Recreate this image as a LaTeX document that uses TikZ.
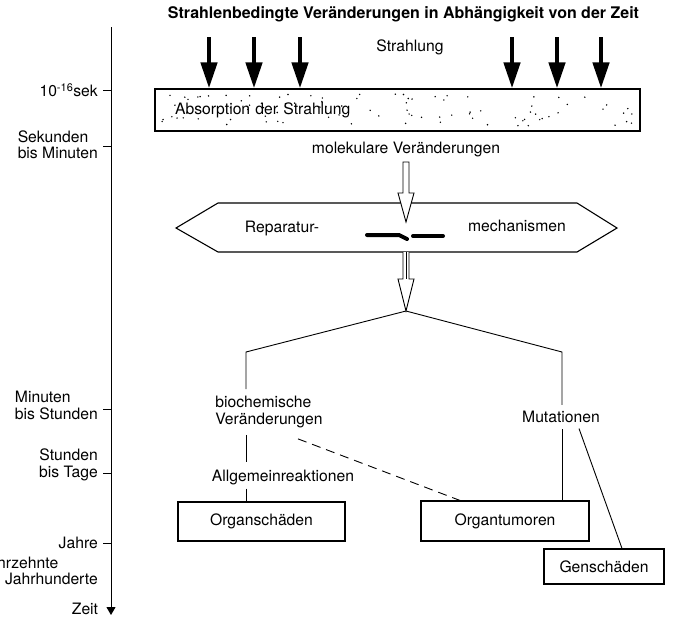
\documentclass[tikz,border=0pt]{standalone}
\usepackage{fontspec}
\setmainfont{TeX Gyre Heros}
\usetikzlibrary{arrows.meta,calc}
\tikzset{
    plain-text/.style = {inner sep=0pt, font=\fontsize{15.7}{16.5}\selectfont},
    time-label/.style = {plain-text, anchor=east},
    result-box/.style = {draw, line width=1.1pt, rectangle, plain-text},
    rad-arrow/.style = {line width=4.5pt, -{Triangle[length=26pt,width=16pt]}},
    hollow-arrow/.style = {draw, fill=white, line width=0.9pt, line join=miter},
    link/.style = {line width=0.9pt},
}

\begin{document}
\begin{tikzpicture}[x=1pt, y=-1pt]
\useasboundingbox (0,0) rectangle (676,621);
\clip (0,0) rectangle (676,621);

\node[plain-text, font=\fontsize{16}{17}\selectfont\bfseries] (title) at (403.5,14) {Strahlenbedingte Veränderungen in Abhängigkeit von der Zeit};

% time scale
\draw[line width=1pt, -{Triangle[length=8pt,width=9pt]}] (111,27) -- (111,615);
\foreach \y in {90,146,409,473,543}
    \draw[line width=1pt] (111,\y) -- (103,\y);
\node[time-label] (t-sek) at (98,90) {10\textsuperscript{-16}sek};
\node[time-label, align=left] (t-min) at (98,145) {Sekunden\\bis Minuten};
\node[time-label, align=left] (t-std) at (98,405.5) {Minuten\\bis Stunden};
\node[time-label, align=right] (t-tag) at (98,465) {Stunden\\bis Tage};
\node[time-label] (t-jahr) at (98,543) {Jahre};
\node[time-label, align=left] (t-jhd) at (98,571) {Jahrzehnte\\bis Jahrhunderte};
\node[plain-text] (zeit) at (85,609) {Zeit};

% radiation and absorption
\node[plain-text] (strahlung) at (410,47) {Strahlung};
\node[draw, line width=1.2pt, plain-text, minimum width=485pt, minimum height=42pt,
      text width=445pt, align=left, inner xsep=20pt] (absorb) at (397.5,110) {Absorption der Strahlung};
\pgfmathsetseed{815}
\foreach \i in {1,...,95}
    \fill ({162+rnd*472},{94+rnd*32}) circle (0.8pt);
\foreach \x in {209,254,300,512,557,601}
    \draw[rad-arrow] (\x,37) -- ({\x},37 |- absorb.north);

\node[plain-text] (molek) at (406,149) {molekulare Veränderungen};

% repair
\draw[line width=1.1pt, line join=miter] (176,228) -- (218,203) -- (577,203) -- (617,228) -- (577,252) -- (218,252) -- cycle;
\draw[hollow-arrow] (403,162) -- (403,193) -- (398,193) -- (406,222) -- (414,193) -- (409,193) -- (409,162) -- cycle;
\node[plain-text] (repair-left) at (282,228) {Reparatur-};
\node[plain-text] (repair-right) at (517,226) {mechanismen};
\draw[line width=4pt, line cap=round, line join=round] (367,235) -- (399,235) -- (407,239);
\draw[line width=4pt, line cap=round] (413,236) -- (443,236);

\draw[hollow-arrow] (403,252) -- (403,279) -- (398,279) -- (406,311) -- (414,279) -- (409,279) -- (409,252);
\draw[line width=0.7pt] (406,252) -- (406,279);

% branches
\coordinate (split) at (406,311);
\coordinate (left-corner) at (246,352);
\coordinate (right-corner) at (562,352);
\node[plain-text, align=left] (biochem) at (269,412) {biochemische\\Veränderungen};
\node[plain-text] (allg) at (283,477) {Allgemeinreaktionen};
\node[plain-text] (mut) at (561,417) {Mutationen};
\node[result-box, minimum width=167pt, minimum height=39pt] (organ) at (261.5,521.5) {Organschäden};
\node[result-box, minimum width=168pt, minimum height=40pt] (tumor) at (505,521) {Organtumoren};
\node[result-box, minimum width=120pt, minimum height=35pt] (gen) at (604,566.5) {Genschäden};

\draw[link, shorten >=7pt] (split) -- (left-corner) -- (left-corner |- biochem.north);
\draw[link, shorten <=7pt, shorten >=7pt] (left-corner |- biochem.south) -- (left-corner |- allg.north);
\draw[link, shorten <=4pt] (left-corner |- allg.south) -- (left-corner |- organ.north);
\draw[link, shorten >=6pt] (split) -- (right-corner) -- (right-corner |- mut.north);
\draw[link, shorten <=6pt] (right-corner |- mut.south) -- (right-corner |- tumor.north);
\draw[link] ($(mut.south)+(18,5.5)$) -- ($(gen.north)+(18,0)$);
\draw[link, dash pattern=on 9pt off 6pt] ($(biochem.south)+(29,11)$) -- ($(tumor.north)+(-45,0)$);
\end{tikzpicture}
\end{document}
